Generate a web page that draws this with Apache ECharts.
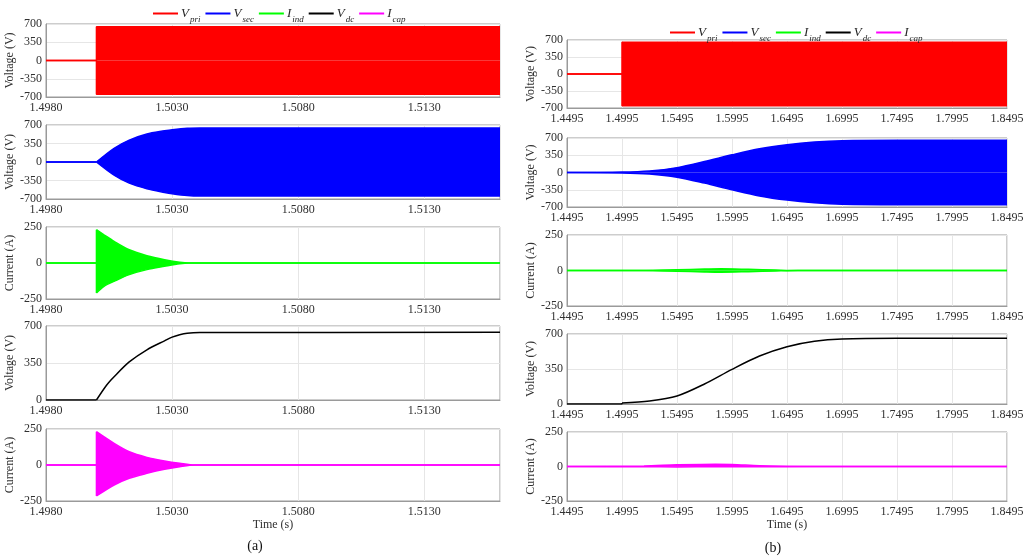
<!DOCTYPE html>
<html><head><meta charset="utf-8">
<script src="https://cdn.jsdelivr.net/npm/echarts@6/dist/echarts.min.js"></script>
<style>html,body{margin:0;padding:0;background:#fff}#c{width:1028px;height:560px}</style>
</head><body><div id="c"></div>
<script>
// ---------------- data ----------------
const seriesNames = ['Vpri', 'Vsec', 'Iind', 'Vdc', 'Icap'];
const seriesMain = ['V', 'V', 'I', 'V', 'I'];
const seriesSub = ['pri', 'sec', 'ind', 'dc', 'cap'];
const seriesColors = ['#ff0000', '#0000ff', '#00ff00', '#000000', '#ff00ff'];

const xTicksA = [1.4980, 1.5030, 1.5080, 1.5130];
const xMaxA = 1.5160;
const xTicksB = [1.4495, 1.4995, 1.5495, 1.5995, 1.6495, 1.6995, 1.7495, 1.7995, 1.8495];
const yTicksV = [-700, -350, 0, 350, 700];
const yTicksI = [-250, 0, 250];
const yTicksDC = [0, 350, 700];
const yNames = ['Voltage (V)', 'Voltage (V)', 'Current (A)', 'Voltage (V)', 'Current (A)'];

// (a) envelopes
const tPriA = [1.4980, 1.5000, 1.5000, 1.5160];
const priUpA = [0, 0, 645, 645];
const priLoA = [0, 0, -645, -645];

const tSecA = [1.4980, 1.5000, 1.5007, 1.5013, 1.5020, 1.5027, 1.5030, 1.5036, 1.5041, 1.5160];
const secUpA = [0, 0, 260, 415, 530, 590, 612, 640, 645, 645];
const secLoA = [0, 0, -250, -400, -505, -575, -600, -635, -645, -645];

const tIndA = [1.4980, 1.5000, 1.5000, 1.5003, 1.5007, 1.5013, 1.5020, 1.5027, 1.5033, 1.5037, 1.5160];
const indUpA = [0, 0, 231, 196, 150, 92, 51, 23, 5, 0, 0];
const indLoA = [0, 0, -208, -162, -127, -81, -46, -23, -5, 0, 0];

const tDcA = [1.4980, 1.5000, 1.5004, 1.5007, 1.5013, 1.5020, 1.5027, 1.5030, 1.5033, 1.5036, 1.5041, 1.5160];
const dcA = [0, 0, 140, 220, 360, 475, 560, 595, 618, 632, 638, 640];

const tCapA = [1.4980, 1.5000, 1.5000, 1.5007, 1.5013, 1.5020, 1.5027, 1.5033, 1.5039, 1.5160];
const capUpA = [0, 0, 231, 150, 92, 53, 28, 12, 0, 0];
const capLoA = [0, 0, -215, -139, -92, -58, -30, -12, 0, 0];

// (b) envelopes
const tPriB = [1.4495, 1.4995, 1.4995, 1.8495];
const priUpB = [0, 0, 655, 655];
const priLoB = [0, 0, -655, -655];

const tSecB = [1.4495, 1.4995, 1.5245, 1.5495, 1.5745, 1.5995, 1.6245, 1.6495, 1.6745, 1.6995, 1.7495, 1.8495];
const secUpB = [0, 8, 31, 99, 222, 359, 482, 564, 618, 646, 655, 655];
const secLoB = [0, -8, -31, -95, -215, -350, -475, -560, -615, -645, -655, -655];

const tIndB = [1.4495, 1.5195, 1.5495, 1.5745, 1.5895, 1.6145, 1.6395, 1.6595, 1.8495];
const indUpB = [0, 0, 5, 10, 12, 8, 3, 0, 0];
const indLoB = [0, 0, -5, -10, -12, -8, -3, 0, 0];

const tDcB = [1.4495, 1.4995, 1.4995, 1.5245, 1.5495, 1.5745, 1.5995, 1.6245, 1.6495, 1.6745, 1.6995, 1.7495, 1.8495];
const dcB = [0, 0, 10, 30, 80, 200, 347, 480, 573, 627, 650, 657, 657];

const tCapB = [1.4495, 1.5195, 1.5495, 1.5845, 1.5995, 1.6245, 1.6495, 1.6995, 1.8495];
const capUpB = [0, 4, 12, 17, 15, 6, 2, 0, 0];
const capLoB = [0, -2, -3, -2, -2, -2, -1, 0, 0];

// ---------------- layout ----------------
const FONT = 'Liberation Serif';
const gridsA = [[24, 73], [125, 74], [227, 72], [326, 74], [429, 72]];
const gridsB = [[40, 68], [138, 69], [235, 71], [334, 70], [432, 69]];
const yTickSets = [yTicksV, yTicksV, yTicksI, yTicksDC, yTicksI];

const grid = [], xAxis = [], yAxis = [], series = [];

function fmtX(ticks) {
  return function (v) {
    for (const t of ticks) if (Math.abs(v - t) < 1e-7) return t.toFixed(4);
    return '';
  };
}

function addPanel(gi, left, width, gpos, xticks, xmax, yticks, yname, last) {
  grid.push({left: left, width: width, top: gpos[0], height: gpos[1], show: true,
             borderColor: '#9a9a9a', borderWidth: 1, backgroundColor: '#fff'});
  xAxis.push({type: 'value', gridIndex: gi, min: xticks[0], max: xmax,
    interval: xticks[1] - xticks[0],
    axisLine: {show: true, onZero: false, lineStyle: {color: '#9a9a9a'}},
    axisTick: {show: false},
    splitLine: {show: true, lineStyle: {color: '#e6e6e6', width: 1}},
    axisLabel: {formatter: fmtX(xticks), fontFamily: FONT, fontSize: 12, color: '#303030', margin: 5,
                showMinLabel: true, showMaxLabel: true, hideOverlap: false},
    name: last ? 'Time (s)' : '', nameLocation: 'middle', nameGap: 18,
    nameTextStyle: {fontFamily: FONT, fontSize: 12, color: '#303030'}});
  yAxis.push({type: 'value', gridIndex: gi, min: yticks[0], max: yticks[yticks.length - 1],
    interval: yticks[1] - yticks[0],
    axisLine: {show: true, lineStyle: {color: '#9a9a9a'}},
    axisTick: {show: false},
    splitLine: {show: true, lineStyle: {color: '#e6e6e6', width: 1}},
    axisLabel: {fontFamily: FONT, fontSize: 12, color: '#303030', margin: 4},
    name: yname, nameLocation: 'middle', nameGap: 30, nameRotate: 90,
    nameTextStyle: {fontFamily: FONT, fontSize: 12, color: '#303030'}});
}

for (let i = 0; i < 5; i++) addPanel(i, 46, 454, gridsA[i], xTicksA, xMaxA, yTickSets[i], yNames[i], i === 4);
for (let i = 0; i < 5; i++) addPanel(5 + i, 567, 440, gridsB[i], xTicksB, xTicksB[xTicksB.length - 1], yTickSets[i], yNames[i], i === 4);

function pts(t, v, a, b) { const out = []; for (let i = a; i <= b; i++) out.push([t[i], v[i]]); return out; }

function mk(k, gi, data, smooth, area) {
  const c = seriesColors[k];
  const s = {name: seriesNames[k], type: 'line', xAxisIndex: gi, yAxisIndex: gi, data: data,
    symbol: 'none', smooth: smooth ? 0.3 : false,
    lineStyle: {color: c, width: 1.5}, itemStyle: {color: c}, silent: true, animation: false};
  if (area) s.areaStyle = {color: c, opacity: 1};
  return s;
}
// the flat lead-in (and a vertical jump, if any) is drawn straight; the rest is smoothed
function traceSeries(k, gi, t, v, smooth, area) {
  let s = 0;
  while (s + 1 < v.length && v[s + 1] === 0) s++;
  if (s + 1 < t.length && t[s + 1] === t[s]) s++;
  const n = t.length - 1;
  if (!smooth || s === 0) return [mk(k, gi, pts(t, v, 0, n), smooth, area)];
  return [mk(k, gi, pts(t, v, 0, s), false, area), mk(k, gi, pts(t, v, s, n), true, area)];
}
function bandSeries(k, gi, t, up, lo, smooth) {
  return [...traceSeries(k, gi, t, up, smooth, true), ...traceSeries(k, gi, t, lo, smooth, true)];
}

series.push(...bandSeries(0, 0, tPriA, priUpA, priLoA, false));
series.push(...bandSeries(1, 1, tSecA, secUpA, secLoA, true));
series.push(...bandSeries(2, 2, tIndA, indUpA, indLoA, true));
series.push(...traceSeries(3, 3, tDcA, dcA, true, false));
series.push(...bandSeries(4, 4, tCapA, capUpA, capLoA, true));

series.push(...bandSeries(0, 5, tPriB, priUpB, priLoB, false));
series.push(...bandSeries(1, 6, tSecB, secUpB, secLoB, true));
series.push(...bandSeries(2, 7, tIndB, indUpB, indLoB, true));
series.push(...traceSeries(3, 8, tDcB, dcB, true, false));
series.push(...bandSeries(4, 9, tCapB, capUpB, capLoB, true));

function legendAt(left, top) {
  return {data: seriesNames, left: left, top: top, icon: 'rect', itemWidth: 25, itemHeight: 2,
    itemGap: 5, selectedMode: false,
    formatter: function (n) { const k = seriesNames.indexOf(n); return '{m|' + seriesMain[k] + '}{s|' + seriesSub[k] + '}'; },
    textStyle: {fontFamily: FONT, color: '#262626', padding: [0, 0, 0, -2],
      rich: {m: {fontFamily: FONT, fontStyle: 'italic', fontSize: 13, color: '#262626', verticalAlign: 'middle', lineHeight: 13, padding: [0, 1, 0, 0]},
             s: {fontFamily: FONT, fontStyle: 'italic', fontSize: 9, color: '#262626', verticalAlign: 'top', lineHeight: 9, padding: [8, 0, 0, 0]}}}};
}

const chart = echarts.init(document.getElementById('c'), null, {renderer: 'canvas'});
chart.setOption({
  animation: false,
  backgroundColor: '#fff',
  grid: grid, xAxis: xAxis, yAxis: yAxis, series: series,
  legend: [legendAt(148, 2), legendAt(665, 21)],
  graphic: [
    {type: 'text', style: {text: '(a)', x: 255, y: 546, textAlign: 'center', textVerticalAlign: 'middle', font: '14px "Liberation Serif"', fill: '#111'}},
    {type: 'text', style: {text: '(b)', x: 773, y: 548, textAlign: 'center', textVerticalAlign: 'middle', font: '14px "Liberation Serif"', fill: '#111'}}
  ]
});
</script></body></html>
